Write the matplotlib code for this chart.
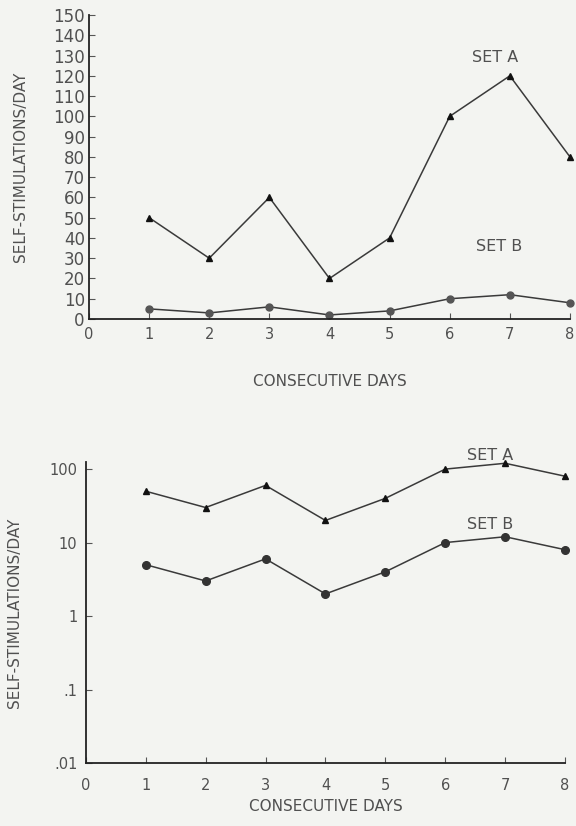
import matplotlib
matplotlib.use("Agg")
import matplotlib.pyplot as plt
from matplotlib.ticker import FixedLocator, FixedFormatter

days = [1, 2, 3, 4, 5, 6, 7, 8]
set_a = [50, 30, 60, 20, 40, 100, 120, 80]
set_b = [5, 3, 6, 2, 4, 10, 12, 8]

xticks = [0, 1, 2, 3, 4, 5, 6, 7, 8]
lin_yticks = list(range(0, 151, 10))
log_yticks = [0.01, 0.1, 1, 10, 100]
log_ylabels = [".01", ".1", "1", "10", "100"]

bg = "#f3f4f1"
ink = "#505050"
plt.rcParams["font.family"] = ["DejaVu Sans"]

fig = plt.figure(figsize=(5.76, 8.26), dpi=100, facecolor=bg)

def style(ax):
    ax.set_facecolor(bg)
    for s in ["top", "right"]:
        ax.spines[s].set_visible(False)
    for s in ["left", "bottom"]:
        ax.spines[s].set_color("#222222")
        ax.spines[s].set_linewidth(1.3)
    ax.tick_params(direction="in", length=4, width=0.8, color="#555555",
                   labelcolor=ink, labelsize=10.5, pad=6)
    ax.set_xlim(0, 8)
    ax.set_xticks(xticks)

# linear panel
ax1 = fig.add_axes([0.1545, 0.6138, 0.835, 0.368])
style(ax1)
ax1.set_ylim(0, 150)
ax1.set_yticks(lin_yticks)
ax1.tick_params(axis="y", pad=3, labelsize=12)
ax1.set_xlabel("CONSECUTIVE DAYS", fontsize=11, color=ink, labelpad=23)
ax1.set_ylabel("SELF-STIMULATIONS/DAY", fontsize=11, color=ink, labelpad=18)
ax1.plot(days, set_a, color="#3a3a3a", lw=1.1, marker="^", ms=5,
         mfc="#111111", mec="#111111", clip_on=False)
ax1.plot(days, set_b, color="#3a3a3a", lw=1.1, marker="o", ms=5,
         mfc="#555555", mec="#555555", clip_on=False)
ax1.text(6.75, 129, "SET A", ha="center", va="center", fontsize=11.5, color=ink)
ax1.text(6.82, 35.6, "SET B", ha="center", va="center", fontsize=11.5, color=ink)

# log panel
ax2 = fig.add_axes([0.149, 0.0763, 0.832, 0.3644])
style(ax2)
ax2.set_yscale("log")
ax2.set_ylim(0.01, 125)
ax2.yaxis.set_major_locator(FixedLocator(log_yticks))
ax2.yaxis.set_major_formatter(FixedFormatter(log_ylabels))
ax2.yaxis.set_minor_locator(FixedLocator([]))
ax2.tick_params(axis="x", pad=11)
ax2.set_xlabel("CONSECUTIVE DAYS", fontsize=11, color=ink, labelpad=4)
ax2.set_ylabel("SELF-STIMULATIONS/DAY", fontsize=11, color=ink, labelpad=20)
ax2.plot(days, set_a, color="#3a3a3a", lw=1.1, marker="^", ms=5,
         mfc="#111111", mec="#111111", clip_on=False)
ax2.plot(days, set_b, color="#3a3a3a", lw=1.1, marker="o", ms=5.5,
         mfc="#333333", mec="#333333", clip_on=False)
ax2.text(6.75, 155, "SET A", ha="center", va="center", fontsize=11.5, color=ink)
ax2.text(6.75, 17.7, "SET B", ha="center", va="center", fontsize=11.5, color=ink)

fig.savefig("out.png", dpi=100, facecolor=bg)
